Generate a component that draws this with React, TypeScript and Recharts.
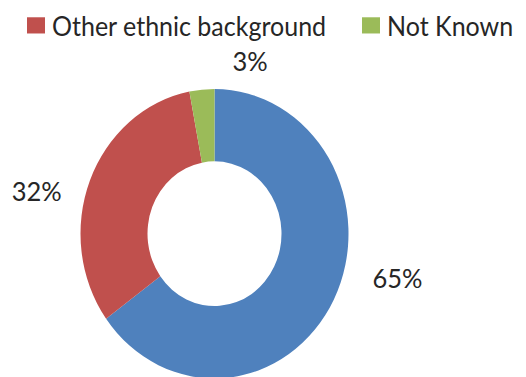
import React from "react";
import { Cell, Pie, PieChart } from "recharts";

// slices, clockwise from 12 o'clock
const categories = ["White British", "Other ethnic background", "Not Known"];
const shares = [65, 32, 3];
const colors = ["#4F81BD", "#C0504D", "#9BBB59"];
// only these entries are visible in the legend strip
const legendItems = ["Other ethnic background", "Not Known"];

const data = categories.map((name, i) => ({ name, value: shares[i] }));

const FONT = "Lato, 'Open Sans', sans-serif";
const TEXT = "#262626";
const RAD = Math.PI / 180;

// the original picture is stretched vertically a little
const STRETCH = 1.08;
const W = 526;
const H = 349;

// Excel-like best-fit nudges for the outside labels
const labelNudge = [
  [28, -38],
  [-16, 24],
  [52, 13],
];

const renderLabel = (props: any) => {
  const { cx, cy, midAngle, outerRadius, index, value } = props;
  const r = outerRadius + 40;
  const x = cx + r * Math.cos(-midAngle * RAD) + labelNudge[index][0];
  const y = cy + r * Math.sin(-midAngle * RAD) + labelNudge[index][1];
  return (
    <text
      x={x}
      y={y}
      textAnchor="middle"
      dominantBaseline="central"
      fill={TEXT}
      fontFamily={FONT}
      fontSize={25.5}
    >
      {`${value}%`}
    </text>
  );
};

const App: React.FC = () => {
  return (
    <div
      style={{
        position: "fixed",
        left: 0,
        top: 0,
        width: W,
        height: 377,
        overflow: "hidden",
        background: "#fff",
      }}
    >
      <div
        style={{
          position: "relative",
          width: W,
          height: H,
          transform: `scaleY(${STRETCH})`,
          transformOrigin: "top left",
        }}
      >
        <div
          style={{
            position: "absolute",
            top: 8,
            left: 27,
            display: "flex",
            alignItems: "center",
            fontFamily: FONT,
            fontSize: 25,
            lineHeight: "30px",
            color: TEXT,
            whiteSpace: "nowrap",
            zIndex: 1,
          }}
        >
          {legendItems.map((name, k) => (
            <div
              key={name}
              style={{
                display: "flex",
                alignItems: "center",
                marginRight: k < legendItems.length - 1 ? 36 : 0,
              }}
            >
              <span
                style={{
                  display: "inline-block",
                  width: 18,
                  height: 15,
                  background: colors[categories.indexOf(name)],
                  marginRight: 7,
                }}
              />
              {name}
            </div>
          ))}
        </div>
        <PieChart width={W} height={H} margin={{ top: 0, right: 0, bottom: 0, left: 0 }}>
          <Pie
            data={data}
            dataKey="value"
            nameKey="name"
            cx={214.5}
            cy={216.4}
            innerRadius={67}
            outerRadius={134}
            startAngle={90}
            endAngle={-270}
            stroke="none"
            labelLine={false}
            label={renderLabel}
            isAnimationActive={false}
          >
            {data.map((d, i) => (
              <Cell key={d.name} fill={colors[i]} />
            ))}
          </Pie>
        </PieChart>
      </div>
    </div>
  );
};

export default App;
